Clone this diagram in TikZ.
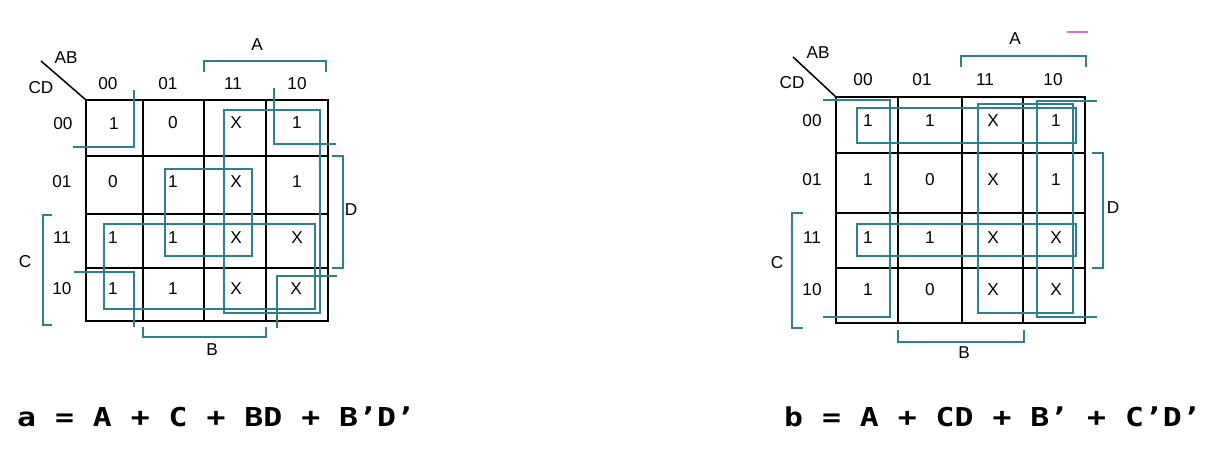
\documentclass[tikz,border=0pt]{standalone}
\usepackage{fontspec}
\usepackage{graphicx}
\setmainfont{Liberation Sans}
\newfontfamily\eqfont{DejaVu Sans Mono}
\definecolor{loopc}{RGB}{45,128,145}
\definecolor{strayc}{RGB}{214,110,214}
\begin{document}
\begin{tikzpicture}[x=1pt,y=-1pt,
  gridl/.style={line width=2pt,draw=black},
  loopline/.style={line width=1.8pt,draw=loopc},
  brk/.style={line width=1.8pt,draw=loopc},
  lbl/.style={inner sep=0pt,font=\fontsize{17.2}{17.2}\selectfont},
  eqn/.style={inner sep=0pt,anchor=base west,font=\eqfont\bfseries\fontsize{26}{27}\selectfont},
]
\useasboundingbox[fill=white] (0,0) rectangle (1208,457);

% ================= LEFT MAP =================
\draw[gridl] (86,100) rectangle (328,321);
\foreach \x in {143,204,266} \draw[gridl] (\x,100) -- (\x,321);
\foreach \y in {156,214,268} \draw[gridl] (86,\y) -- (328,\y);
\coordinate (Ldiag) at (41,61);
\coordinate (Lcorner) at (86,100);
\draw[line width=1.5pt] (Ldiag) -- (Lcorner);
\node[lbl] (LAB) at (66,58) {AB};
\node[lbl] (LCD) at (41,88) {CD};
\node[lbl] (Lc1) at (108,84) {00};
\node[lbl] (Lc2) at (168,84) {01};
\node[lbl] (Lc3) at (233,84) {11};
\node[lbl] (Lc4) at (297,84) {10};
\node[lbl] (Lr1) at (63,124) {00};
\node[lbl] (Lr2) at (62,182) {01};
\node[lbl] (Lr3) at (62,238) {11};
\node[lbl] (Lr4) at (62,289) {10};
% cells
\node[lbl] (L11) at (114,124) {1};
\node[lbl] (L12) at (173,123) {0};
\node[lbl] (L13) at (236,123) {X};
\node[lbl] (L14) at (297,123) {1};
\node[lbl] (L21) at (113,182) {0};
\node[lbl] (L22) at (173,182) {1};
\node[lbl] (L23) at (236,182) {X};
\node[lbl] (L24) at (297,182) {1};
\node[lbl] (L31) at (113,238) {1};
\node[lbl] (L32) at (173,238) {1};
\node[lbl] (L33) at (236,238) {X};
\node[lbl] (L34) at (297,238) {X};
\node[lbl] (L41) at (113,289) {1};
\node[lbl] (L42) at (173,289) {1};
\node[lbl] (L43) at (236,289) {X};
\node[lbl] (L44) at (296,289) {X};
% brackets
\draw[brk] (204,72) -- (204,61) -- (326,61) -- (326,72);
\node[lbl] (LA) at (257,45) {A};
\draw[brk] (143,327) -- (143,337) -- (266,337) -- (266,327);
\node[lbl] (LB) at (212,350) {B};
\draw[brk] (52,215) -- (43,215) -- (43,325) -- (52,325);
\node[lbl] (LC) at (25,262) {C};
\draw[brk] (332,156) -- (343,156) -- (343,268) -- (332,268);
\node[lbl] (LD) at (351,210) {D};
% groups
\draw[loopline] (134,90) -- (134,147) -- (73,147);
\draw[loopline] (274,88) -- (274,144) -- (336,144);
\draw[loopline] (74,272) -- (134,272) -- (134,327);
\draw[loopline] (337,276) -- (277,276) -- (277,328);
\draw[loopline] (224,110) rectangle (320,313);
\draw[loopline] (104,224) rectangle (315,309);
\draw[loopline] (165,169) rectangle (252,256);

% ================= RIGHT MAP =================
\draw[gridl] (836,97) rectangle (1085,323);
\foreach \x in {898,962,1023} \draw[gridl] (\x,97) -- (\x,323);
\foreach \y in {153,213,268} \draw[gridl] (836,\y) -- (1085,\y);
\coordinate (Rdiag) at (793,57);
\coordinate (Rcorner) at (836,97);
\draw[line width=1.5pt] (Rdiag) -- (Rcorner);
\node[lbl] (RAB) at (818,53) {AB};
\node[lbl] (RCD) at (792,83) {CD};
\node[lbl] (Rc1) at (863,80) {00};
\node[lbl] (Rc2) at (922,80) {01};
\node[lbl] (Rc3) at (985,80) {11};
\node[lbl] (Rc4) at (1053,80) {10};
\node[lbl] (Rr1) at (812,121) {00};
\node[lbl] (Rr2) at (812,180) {01};
\node[lbl] (Rr3) at (812,238) {11};
\node[lbl] (Rr4) at (812,290) {10};
% cells
\node[lbl] (R11) at (868,121) {1};
\node[lbl] (R12) at (930,121) {1};
\node[lbl] (R13) at (993,121) {X};
\node[lbl] (R14) at (1056,121) {1};
\node[lbl] (R21) at (868,180) {1};
\node[lbl] (R22) at (930,180) {0};
\node[lbl] (R23) at (993,180) {X};
\node[lbl] (R24) at (1056,180) {1};
\node[lbl] (R31) at (868,238) {1};
\node[lbl] (R32) at (930,238) {1};
\node[lbl] (R33) at (993,238) {X};
\node[lbl] (R34) at (1056,238) {X};
\node[lbl] (R41) at (868,290) {1};
\node[lbl] (R42) at (930,290) {0};
\node[lbl] (R43) at (993,290) {X};
\node[lbl] (R44) at (1056,290) {X};
% brackets
\draw[brk] (961,67) -- (961,56) -- (1086,56) -- (1086,67);
\node[lbl] (RA) at (1015,39) {A};
\draw[brk] (898,330) -- (898,342) -- (1024,342) -- (1024,330);
\node[lbl] (RB) at (964,353) {B};
\draw[brk] (803,213) -- (792,213) -- (792,328) -- (803,328);
\node[lbl] (RC) at (777,263) {C};
\draw[brk] (1092,153) -- (1103,153) -- (1103,268) -- (1092,268);
\node[lbl] (RD) at (1113,208) {D};
\draw[line width=1.8pt,draw=strayc] (1067,32) -- (1088,32);
% groups
\draw[loopline] (823,100) -- (890,100) -- (890,317) -- (823,317);
\draw[loopline] (1097,101) -- (1037,101) -- (1037,317) -- (1097,317);
\draw[loopline] (978,104) rectangle (1073,313);
\draw[loopline] (857,108) rectangle (1076,143);
\draw[loopline] (857,224) rectangle (1076,256);

% ================= EQUATIONS =================
\node[eqn] (eqa) at (17,426) {\scalebox{1.21}[1]{a = A + C + BD + B’D’}};
\node[eqn] (eqb) at (784,426) {\scalebox{1.21}[1]{b = A + CD + B’ + C’D’}};
\end{tikzpicture}
\end{document}
